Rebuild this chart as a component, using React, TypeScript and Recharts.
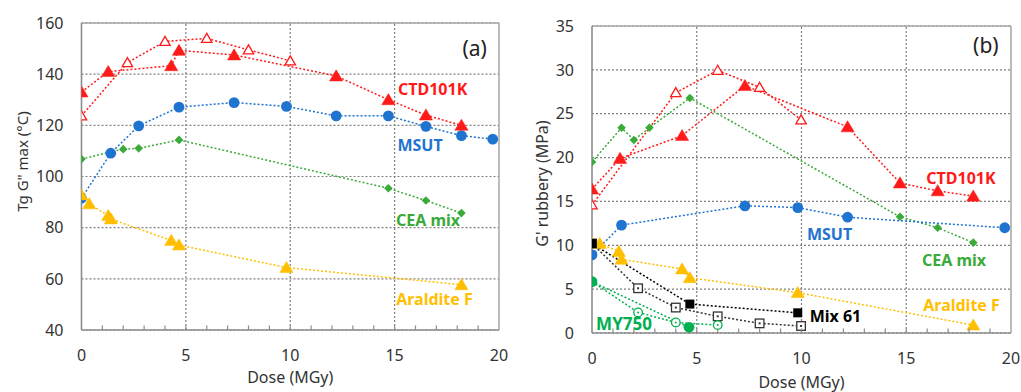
import React from 'react';
import { LineChart, Line, XAxis, YAxis, CartesianGrid, ReferenceLine, ReferenceDot } from 'recharts';

// ---------- Panel (a): Tg G'' max (°C) ----------
const aCtdFilledDose = [0, 1.28, 4.3, 4.67, 7.31, 12.2, 14.7, 16.5, 18.2];
const aCtdFilledVal = [133, 141, 143.3, 149.3, 147.5, 139.3, 130, 124, 120];
const aCtdOpenDose = [0, 2.2, 4.0, 6.0, 8.0, 10.0];
const aCtdOpenVal = [123.7, 144.5, 152.8, 154, 149.5, 145.2];
const aMsutDose = [0, 1.4, 2.74, 4.67, 7.31, 9.82, 12.2, 14.7, 16.5, 18.2, 19.7];
const aMsutVal = [91.5, 109.1, 119.8, 127.1, 128.9, 127.4, 123.7, 123.7, 119.6, 116, 114.6];
const aCeaDose = [0, 1.41, 2.0, 2.74, 4.67, 14.7, 16.5, 18.2];
const aCeaVal = [106.8, 109.7, 110.7, 111, 114.3, 95.4, 90.6, 85.7];
const aAralditeDose = [0, 0.37, 1.28, 1.41, 4.3, 4.67, 9.82, 18.2];
const aAralditeVal = [92.8, 89.3, 84.7, 83.4, 75, 73.2, 64.4, 57.7];

// ---------- Panel (b): G' rubbery (MPa) ----------
const bCtdFilledDose = [0, 1.34, 4.3, 7.3, 12.2, 14.7, 16.5, 18.2];
const bCtdFilledVal = [16.4, 19.9, 22.5, 28.2, 23.5, 17.1, 16.2, 15.6];
const bCtdOpenDose = [0, 4.0, 6.0, 8.0, 9.98];
const bCtdOpenVal = [14.6, 27.4, 29.95, 28.0, 24.3];
const bMsutDose = [0, 1.41, 7.3, 9.82, 12.2, 19.7];
const bMsutVal = [8.9, 12.3, 14.5, 14.3, 13.2, 12.0];
const bCeaDose = [0, 1.41, 2.0, 2.74, 4.67, 14.7, 16.5, 18.2];
const bCeaVal = [19.5, 23.4, 22.0, 23.4, 26.8, 13.25, 12.0, 10.3];
const bAralditeDose = [0, 0.37, 1.28, 1.41, 4.3, 4.67, 9.82, 18.2];
const bAralditeVal = [10.3, 10.2, 9.3, 8.4, 7.3, 6.3, 4.6, 0.9];
const bMix61FilledDose = [0, 4.67, 9.82];
const bMix61FilledVal = [10.2, 3.3, 2.3];
const bMix61OpenDose = [0, 2.2, 4.0, 6.0, 8.0, 9.98];
const bMix61OpenVal = [10.2, 5.1, 2.9, 1.9, 1.1, 0.8];
const bMy750FilledDose = [0, 4.63];
const bMy750FilledVal = [5.85, 0.65];
const bMy750OpenDose = [0, 2.2, 4.0, 6.0];
const bMy750OpenVal = [5.85, 2.35, 1.2, 0.9];

const xTicks = [0, 1, 2, 3, 4, 5, 6, 7, 8, 9, 10, 11, 12, 13, 14, 15, 16, 17, 18, 19, 20];
const aYTicks = [40, 60, 80, 100, 120, 140, 160];
const bYTicks = [0, 5, 10, 15, 20, 25, 30, 35];

const RED = '#ff1a1a';
const BLUE = '#1f74d0';
const GREEN = '#3aaa38';
const ORANGE = '#ffbf00';
const BLACK = '#000000';
const MYGREEN = '#00b050';
const FONT = '"Noto Sans", "Open Sans", sans-serif';

const zip = (xs: number[], ys: number[]) => xs.map((x, i) => ({ x, y: ys[i] }));

type Shape = 'tri' | 'triOpen' | 'circle' | 'circleOpen' | 'diamond' | 'square' | 'squareOpen';

const makeDot = (shape: Shape, color: string, size = 1) => (props: any) => {
  const { cx, cy, index } = props;
  if (cx == null || cy == null) return <g key={index} />;
  const k = `d${index}`;
  switch (shape) {
    case 'tri': {
      const h = 6.2 * size, w = 6.6 * size;
      return <polygon key={k} points={`${cx},${cy - h} ${cx - w},${cy + h * 0.8} ${cx + w},${cy + h * 0.8}`} fill={color} stroke={color} strokeWidth={0.5} />;
    }
    case 'triOpen': {
      const h = 5 * size, w = 5.2 * size;
      return <polygon key={k} points={`${cx},${cy - h} ${cx - w},${cy + h * 0.8} ${cx + w},${cy + h * 0.8}`} fill="#fff" stroke={color} strokeWidth={1.3} />;
    }
    case 'circle':
      return <circle key={k} cx={cx} cy={cy} r={5.4 * size} fill={color} />;
    case 'circleOpen':
      return (
        <g key={k}>
          <circle cx={cx} cy={cy} r={4.3} fill="#fff" stroke={color} strokeWidth={1.3} />
          <circle cx={cx} cy={cy} r={1} fill={color} />
        </g>
      );
    case 'diamond': {
      const d = 4.3 * size;
      return <polygon key={k} points={`${cx},${cy - d} ${cx + d},${cy} ${cx},${cy + d} ${cx - d},${cy}`} fill={color} />;
    }
    case 'square':
      return <rect key={k} x={cx - 4.5} y={cy - 4.5} width={9} height={9} fill={color} />;
    case 'squareOpen':
      return (
        <g key={k}>
          <rect x={cx - 4.3} y={cy - 4.3} width={8.6} height={8.6} fill="#fff" stroke="#333" strokeWidth={1.3} />
          <rect x={cx - 1} y={cy - 1} width={2} height={2} fill="#333" />
        </g>
      );
  }
  return <g key={k} />;
};

const XTick = (props: any) => {
  const { x, y, payload } = props;
  const v = payload.value as number;
  return (
    <g>
      {v !== 0 && v !== 20 && <line x1={x} x2={x} y1={y} y2={y - 4.5} stroke="#8c8c8c" strokeWidth={1.2} />}
      {v % 5 === 0 && (
        <text x={x} y={y + 25} textAnchor="middle" dominantBaseline="central" fontSize={16} fontFamily={FONT} fill="#333">
          {v}
        </text>
      )}
    </g>
  );
};

const annot = (text: string, color: string, size: number, weight: string | number) => ({
  content: (p: any) => {
    const vb = p.viewBox || {};
    const cx = (vb.x ?? 0) + (vb.width ?? 0) / 2;
    const cy = (vb.y ?? 0) + (vb.height ?? 0) / 2;
    return (
      <text x={cx} y={cy} textAnchor="middle" dominantBaseline="central" fontSize={size} fontWeight={weight} fontFamily={FONT} fill={color}>
        {text}
      </text>
    );
  },
});

type SeriesDef = { data: { x: number; y: number }[]; color: string; shape: Shape; size?: number };
type LabelDef = { x: number; y: number; text: string; color: string; size: number; weight: string | number };

type PanelProps = {
  width: number;
  height: number;
  margin: { top: number; right: number; left: number; bottom: number };
  yAxisWidth: number;
  xAxisHeight: number;
  yDomain: [number, number];
  yTicks: number[];
  yTitle: string;
  yTitleX: number;
  yTitleDy: number;
  yTitleSize: number;
  xTitleY: number;
  series: SeriesDef[];
  labels: LabelDef[];
};

const Panel = (p: PanelProps) => {
  const top = p.yDomain[1];
  return (
    <LineChart width={p.width} height={p.height} margin={p.margin}>
      <CartesianGrid vertical={false} stroke="#808080" strokeDasharray="2 2" strokeWidth={1.2} />
      {[5, 10, 15].map((v) => (
        <ReferenceLine key={`v${v}`} x={v} stroke="#808080" strokeDasharray="2 2" strokeWidth={1.2} />
      ))}
      <ReferenceLine y={top} stroke="#a6a6a6" strokeWidth={1.5} />
      <ReferenceLine x={20} stroke="#a6a6a6" strokeWidth={1.5} />
      <XAxis
        dataKey="x"
        type="number"
        domain={[0, 20]}
        ticks={xTicks}
        interval={0}
        allowDataOverflow
        height={p.xAxisHeight}
        tickLine={false}
        tickSize={0}
        tickMargin={0}
        axisLine={{ stroke: '#8c8c8c', strokeWidth: 1.6 }}
        tick={<XTick />}
        label={{
          content: (lp: any) => {
            const vb = lp.viewBox || {};
            return (
              <text x={vb.x + vb.width / 2} y={p.xTitleY} textAnchor="middle" dominantBaseline="central" fontSize={16} fontFamily={FONT} fill="#333">
                Dose (MGy)
              </text>
            );
          },
        }}
      />
      <YAxis
        type="number"
        domain={p.yDomain}
        ticks={p.yTicks}
        interval={0}
        allowDataOverflow
        width={p.yAxisWidth}
        tickLine={false}
        tickSize={0}
        tickMargin={18}
        axisLine={{ stroke: '#8c8c8c', strokeWidth: 1.6 }}
        tick={{ fontSize: 16, fontFamily: FONT, fill: '#333' }}
        label={{
          content: (lp: any) => {
            const vb = lp.viewBox || {};
            const cy = vb.y + vb.height / 2 + p.yTitleDy;
            return (
              <text x={p.yTitleX} y={cy} transform={`rotate(-90, ${p.yTitleX}, ${cy})`} textAnchor="middle" dominantBaseline="central" fontSize={p.yTitleSize} fontFamily={FONT} fill="#333">
                {p.yTitle}
              </text>
            );
          },
        }}
      />
      {p.series.map((s, i) => (
        <Line
          key={`s${i}`}
          data={s.data}
          dataKey="y"
          type="linear"
          stroke={s.color}
          strokeWidth={1.5}
          strokeDasharray="2 2"
          dot={makeDot(s.shape, s.color, s.size)}
          activeDot={false}
          isAnimationActive={false}
        />
      ))}
      {p.labels.map((l, i) => (
        <ReferenceDot key={`l${i}`} x={l.x} y={l.y} r={0} fill="none" stroke="none" ifOverflow="visible" label={annot(l.text, l.color, l.size, l.weight)} />
      ))}
    </LineChart>
  );
};

const seriesA: SeriesDef[] = [
  { data: zip(aCeaDose, aCeaVal), color: GREEN, shape: 'diamond' },
  { data: zip(aMsutDose, aMsutVal), color: BLUE, shape: 'circle' },
  { data: zip(aCtdOpenDose, aCtdOpenVal), color: RED, shape: 'triOpen' },
  { data: zip(aCtdFilledDose, aCtdFilledVal), color: RED, shape: 'tri' },
  { data: zip(aAralditeDose, aAralditeVal), color: ORANGE, shape: 'tri' },
];

const labelsA: LabelDef[] = [
  { x: 18.83, y: 150.4, text: '(a)', color: '#222', size: 21, weight: 'normal' },
  { x: 16.82, y: 134.2, text: 'CTD101K', color: RED, size: 16, weight: 'bold' },
  { x: 16.22, y: 112.3, text: 'MSUT', color: BLUE, size: 16, weight: 'bold' },
  { x: 16.6, y: 83.0, text: 'CEA mix', color: GREEN, size: 16, weight: 'bold' },
  { x: 16.91, y: 52.2, text: 'Araldite F', color: ORANGE, size: 16, weight: 'bold' },
];

const seriesB: SeriesDef[] = [
  { data: zip(bCeaDose, bCeaVal), color: GREEN, shape: 'diamond' },
  { data: zip(bMsutDose, bMsutVal), color: BLUE, shape: 'circle' },
  { data: zip(bCtdOpenDose, bCtdOpenVal), color: RED, shape: 'triOpen' },
  { data: zip(bCtdFilledDose, bCtdFilledVal), color: RED, shape: 'tri' },
  { data: zip(bAralditeDose, bAralditeVal), color: ORANGE, shape: 'tri' },
  { data: zip(bMix61OpenDose, bMix61OpenVal), color: '#333', shape: 'squareOpen' },
  { data: zip(bMix61FilledDose, bMix61FilledVal), color: BLACK, shape: 'square' },
  { data: zip(bMy750OpenDose, bMy750OpenVal), color: MYGREEN, shape: 'circleOpen' },
  { data: zip(bMy750FilledDose, bMy750FilledVal), color: MYGREEN, shape: 'circle' },
];

const labelsB: LabelDef[] = [
  { x: 18.8, y: 32.8, text: '(b)', color: '#222', size: 21, weight: 'normal' },
  { x: 17.61, y: 17.65, text: 'CTD101K', color: RED, size: 16, weight: 'bold' },
  { x: 11.34, y: 11.28, text: 'MSUT', color: BLUE, size: 16, weight: 'bold' },
  { x: 17.28, y: 8.31, text: 'CEA mix', color: GREEN, size: 16, weight: 'bold' },
  { x: 17.64, y: 3.19, text: 'Araldite F', color: ORANGE, size: 16, weight: 'bold' },
  { x: 11.62, y: 1.94, text: 'Mix 61', color: BLACK, size: 16, weight: 'bold' },
  { x: 1.53, y: 1.03, text: 'MY750', color: MYGREEN, size: 17, weight: 'bold' },
];

export default function App() {
  return (
    <div style={{ position: 'absolute', left: 0, top: 0, width: 1021, height: 392, background: '#fff', overflow: 'hidden' }}>
      <div style={{ position: 'absolute', left: 0, top: 0 }}>
        <Panel
          width={513}
          height={392}
          margin={{ top: 23, right: 14, left: 0, bottom: 0 }}
          yAxisWidth={81.5}
          xAxisHeight={62}
          yDomain={[40, 160]}
          yTicks={aYTicks}
          yTitle={'Tg G" max (°C)'}
          yTitleX={22}
          yTitleDy={-15}
          yTitleSize={15}
          xTitleY={377}
          series={seriesA}
          labels={labelsA}
        />
      </div>
      <div style={{ position: 'absolute', left: 510, top: 0 }}>
        <Panel
          width={511}
          height={392}
          margin={{ top: 26, right: 10, left: 0, bottom: 0 }}
          yAxisWidth={82}
          xAxisHeight={59}
          yDomain={[0, 35]}
          yTicks={bYTicks}
          yTitle={"G' rubbery (MPa)"}
          yTitleX={32}
          yTitleDy={4}
          yTitleSize={16}
          xTitleY={382}
          series={seriesB}
          labels={labelsB}
        />
      </div>
    </div>
  );
}
